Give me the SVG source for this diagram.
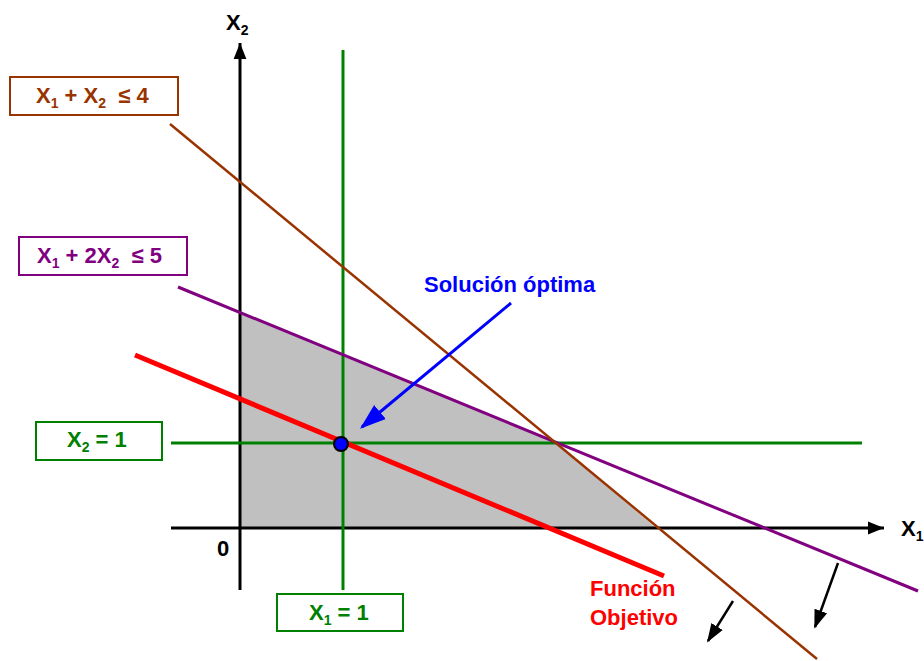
<svg xmlns="http://www.w3.org/2000/svg" width="924" height="661" viewBox="0 0 924 661">
<style>
text{font-family:"Liberation Sans",Arial,sans-serif;font-weight:bold;font-size:22px}
.sub{font-size:14px}
.box{fill:#fff;stroke-width:2}
</style>
<defs>
<marker id="big" viewBox="0 0 10 10" refX="10" refY="5" markerWidth="16" markerHeight="16" markerUnits="userSpaceOnUse" orient="auto"><path d="M0,1L10,5L0,9z" fill="#000"/></marker>
<marker id="blue" viewBox="0 0 10 10" refX="9" refY="5" markerWidth="26" markerHeight="26" markerUnits="userSpaceOnUse" orient="auto"><path d="M0,1.5L10,5L0,8.5z" fill="#0000ff"/></marker>
<marker id="blk" viewBox="0 0 10 10" refX="9" refY="5" markerWidth="19" markerHeight="19" markerUnits="userSpaceOnUse" orient="auto"><path d="M0,1.5L10,5L0,8.5z" fill="#000"/></marker>
</defs>
<g id="region"><polygon points="240,313 553,441 656,528 240,528" fill="#c0c0c0"/></g>
<g id="connectors">
<line id="axis-x" x1="171" y1="528" x2="884" y2="528" stroke="#000" stroke-width="3" marker-end="url(#big)"/>
<line id="axis-y" x1="240" y1="590" x2="240" y2="43" stroke="#000" stroke-width="3" marker-end="url(#big)"/>
<line id="x1eq1" x1="343" y1="50" x2="343" y2="590" stroke="#008000" stroke-width="3"/>
<line id="x2eq1" x1="171" y1="443" x2="862" y2="443" stroke="#008000" stroke-width="3"/>
<line id="purple" x1="178" y1="287" x2="918" y2="591" stroke="#800080" stroke-width="3"/>
<line id="brown" x1="170" y1="124" x2="817" y2="659" stroke="#993300" stroke-width="2.5"/>
<line id="obj" x1="135" y1="355" x2="664" y2="576" stroke="#ff0000" stroke-width="5"/>
<line id="sol-arrow" x1="511" y1="303" x2="362" y2="427" stroke="#0000ff" stroke-width="3" marker-end="url(#blue)"/>
<line id="arr1" x1="733" y1="601" x2="708" y2="641" stroke="#000" stroke-width="2.5" marker-end="url(#blk)"/>
<line id="arr2" x1="838" y1="563" x2="815" y2="627" stroke="#000" stroke-width="2.5" marker-end="url(#blk)"/>
</g>
<g id="optimum"><circle cx="341" cy="444" r="7" fill="#0000ff" stroke="#000" stroke-width="2"/></g>
<g id="label-x2"><text x="226" y="30">X<tspan class="sub" dy="5">2</tspan></text></g>
<g id="label-x1"><text x="901" y="536">X<tspan class="sub" dy="5">1</tspan></text></g>
<g id="label-0"><text x="217" y="556" font-size="20">0</text></g>
<g id="c1"><rect class="box" x="10" y="77" width="168" height="38" stroke="#993300"/><text x="36" y="103" fill="#993300" xml:space="preserve">X<tspan class="sub" dy="5">1</tspan><tspan dy="-5"> + X</tspan><tspan class="sub" dy="5">2</tspan><tspan dy="-5">  ≤ 4</tspan></text></g>
<g id="c2"><rect class="box" x="19" y="237" width="168" height="38" stroke="#800080"/><text x="37" y="263" fill="#800080" xml:space="preserve">X<tspan class="sub" dy="5">1</tspan><tspan dy="-5"> + 2X</tspan><tspan class="sub" dy="5">2</tspan><tspan dy="-5">  ≤ 5</tspan></text></g>
<g id="c3"><rect class="box" x="36" y="422" width="126" height="38" stroke="#008000"/><text x="67" y="447" fill="#008000">X<tspan class="sub" dy="5">2</tspan><tspan dy="-5"> = 1</tspan></text></g>
<g id="c4"><rect class="box" x="277" y="594" width="126" height="37" stroke="#008000"/><text x="309" y="620" fill="#008000">X<tspan class="sub" dy="5">1</tspan><tspan dy="-5"> = 1</tspan></text></g>
<g id="sol"><text x="424" y="292" fill="#0000ff">Solución óptima</text></g>
<g id="fo"><text x="590" y="596" fill="#ff0000">Función</text><text x="590" y="625" fill="#ff0000">Objetivo</text></g>
</svg>
